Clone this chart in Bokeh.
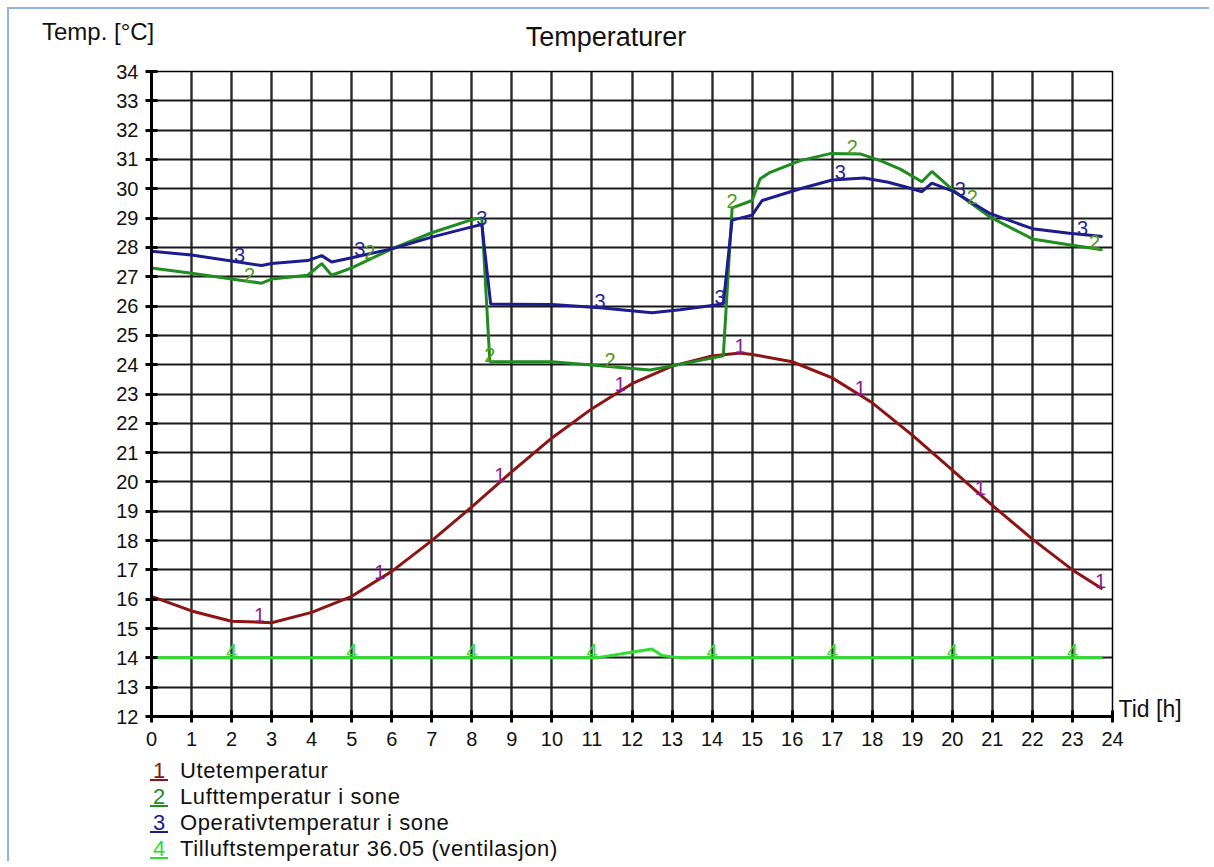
import numpy as np
from bokeh.plotting import figure
from bokeh.models import Range1d, FixedTicker, LinearAxis, Div
from bokeh.layouts import column
from bokeh.embed import file_html
from bokeh.resources import INLINE

# ---------------- data ----------------
chart_title = "Temperaturer"
y_title = "Temp. [°C]"
x_title = "Tid [h]"
series_names = ["Utetemperatur", "Lufttemperatur i sone",
                "Operativtemperatur i sone", "Tilluftstemperatur 36.05 (ventilasjon)"]

ute_h = [0, 1, 2, 3, 4, 5, 6, 7, 8, 9, 10, 11, 12, 13, 14, 14.7, 15, 16, 17, 18, 19, 20, 21, 22, 23, 23.75]
ute_t = [16.1, 15.6, 15.25, 15.2, 15.55, 16.1, 16.95, 18.0, 19.15, 20.35, 21.5, 22.5, 23.35, 23.95,
         24.3, 24.4, 24.35, 24.1, 23.55, 22.7, 21.6, 20.4, 19.2, 18.05, 17.0, 16.35]

luft_h = [0, 1, 2, 2.75, 3.0, 3.9, 4.25, 4.5, 5, 6, 7, 8, 8.25, 8.45, 10.0, 11.2, 12.45, 13.0,
          14.28, 14.5, 15.0, 15.2, 15.45, 16.2, 16.95, 17.7, 18.2, 18.7, 19.24, 19.49, 20.03,
          20.37, 20.95, 22.0, 22.87, 23.75]
luft_t = [27.3, 27.12, 26.92, 26.78, 26.92, 27.05, 27.45, 27.05, 27.3, 27.95, 28.5, 28.95, 29.0,
          24.1, 24.1, 23.96, 23.82, 23.96, 24.3, 29.35, 29.6, 30.34, 30.56, 30.96, 31.2, 31.19,
          30.96, 30.67, 30.24, 30.59, 29.94, 29.6, 29.03, 28.29, 28.1, 27.92]

oper_h = [0, 1, 2, 2.75, 3.0, 3.9, 4.25, 4.5, 5, 6, 7, 8, 8.25, 8.47, 10.0, 11.2, 12.5, 13.2,
          14.28, 14.5, 15.0, 15.25, 16.2, 17.0, 17.8, 18.4, 19.0, 19.24, 19.49, 20.03, 20.95,
          22.0, 22.87, 23.75]
oper_t = [27.87, 27.74, 27.54, 27.38, 27.45, 27.55, 27.72, 27.5, 27.65, 27.95, 28.35, 28.7, 28.78,
          26.07, 26.05, 25.94, 25.77, 25.87, 26.07, 28.93, 29.1, 29.6, 30.0, 30.3, 30.37, 30.22,
          30.0, 29.9, 30.19, 29.91, 29.15, 28.64, 28.49, 28.37]

till_h = [0, 11.1, 12.5, 12.75, 13.2, 23.75]
till_t = [14.0, 14.0, 14.3, 14.08, 14.0, 14.0]

label_x_ute = [2.7, 5.7, 8.7, 11.7, 14.7, 17.7, 20.7, 23.7]
label_x_luft = [2.45, 5.45, 8.45, 11.45, 14.5, 17.5, 20.5, 23.55]
label_x_oper = [2.2, 5.2, 8.25, 11.2, 14.2, 17.2, 20.2, 23.25]
label_x_till = [2.0, 5.0, 8.0, 11.0, 14.0, 17.0, 20.0, 23.0]

x_ticks = list(range(0, 25))
y_ticks = list(range(12, 35))

# ---------------- styling ----------------
line_colors = ["#8e1414", "#1f8c1f", "#1c1c8e", "#2ee02e"]
label_colors = ["#8a1a8a", "#4f9a1c", "#24249a", "#3ed83e"]
FONT = "Liberation Sans"
TXT = "#111111"

p = figure(width=1200, height=699, output_backend="svg", toolbar_location=None,
           x_range=Range1d(0, 24), y_range=Range1d(12, 34),
           min_border_left=142, min_border_top=14, min_border_right=97, min_border_bottom=40)
p.title.visible = False
p.outline_line_color = "black"
p.outline_line_width = 1.5
p.background_fill_color = "white"
p.border_fill_color = "white"

for ax, ticks in ((p.xaxis, x_ticks), (p.yaxis, y_ticks)):
    ax.ticker = FixedTicker(ticks=ticks)
    ax.axis_line_width = 3
    ax.axis_line_color = "black"
    ax.major_tick_line_width = 3
    ax.major_tick_line_color = "black"
    ax.major_tick_in = 6
    ax.major_tick_out = 6
    ax.minor_tick_line_color = None
    ax.major_label_text_font = FONT
    ax.major_label_text_font_size = "20px"
    ax.major_label_text_color = TXT
p.xaxis.major_label_standoff = 9
p.yaxis.major_label_standoff = 7

# x-axis title at the right end, drawn as the single label of a bare right axis
p.extra_y_ranges = {"tid": Range1d(0, 645)}
tid_axis = LinearAxis(y_range_name="tid", ticker=FixedTicker(ticks=[8]),
                      major_label_overrides={8: x_title})
tid_axis.axis_line_color = None
tid_axis.major_tick_line_color = None
tid_axis.minor_tick_line_color = None
tid_axis.major_tick_out = 0
tid_axis.major_tick_in = 0
tid_axis.major_label_standoff = 6
tid_axis.major_label_text_font = FONT
tid_axis.major_label_text_font_size = "23px"
tid_axis.major_label_text_color = TXT
p.add_layout(tid_axis, "right")

p.xgrid.ticker = FixedTicker(ticks=x_ticks)
p.ygrid.ticker = FixedTicker(ticks=y_ticks)
p.xgrid.grid_line_color = "#2a2a2a"
p.xgrid.grid_line_width = 2.4
p.ygrid.grid_line_color = "#1a1a1a"
p.ygrid.grid_line_width = 2

series = [(ute_h, ute_t, label_x_ute), (luft_h, luft_t, label_x_luft),
          (oper_h, oper_t, label_x_oper), (till_h, till_t, label_x_till)]

for i, (hh, tt, lx) in enumerate(series):
    p.line(hh, tt, line_color=line_colors[i], line_width=3)
for i, (hh, tt, lx) in enumerate(series):
    ly = np.interp(lx, hh, tt)
    p.text(x=lx, y=list(ly), text=[str(i + 1)] * len(lx), text_color=label_colors[i],
           text_font={"value": FONT}, text_font_size={"value": "20px"},
           text_align="center", text_baseline="bottom")

# ---------------- header and legend (HTML text) ----------------
header_html = (
    f'<div style="position:relative;width:1200px;height:48px;font-family:\'{FONT}\';color:{TXT};">'
    f'<span style="position:absolute;left:33px;top:10px;font-size:24px;line-height:26px;white-space:nowrap;">{y_title}</span>'
    f'<span style="position:absolute;left:497px;width:200px;text-align:center;top:14px;font-size:27px;line-height:28px;white-space:nowrap;">{chart_title}</span>'
    '</div>'
)
header = Div(text=header_html, width=1200, height=48, margin=0)

row_centers = [15, 41, 67, 93]
legend_parts = [f'<div style="position:relative;width:1200px;height:105px;font-family:\'{FONT}\';color:{TXT};font-size:22px;">']
for i, name in enumerate(series_names):
    top = row_centers[i] - 10
    legend_parts.append(
        f'<span style="position:absolute;left:141px;top:{top}px;width:18px;height:20px;line-height:20px;'
        f'text-align:center;color:{line_colors[i]};border-bottom:2px solid {line_colors[i]};">{i + 1}</span>'
        f'<span style="position:absolute;left:171px;top:{top}px;line-height:20px;letter-spacing:0.6px;white-space:nowrap;">{name}</span>'
    )
legend_parts.append('</div>')
legend = Div(text="".join(legend_parts), width=1200, height=105, margin=0)

layout = column(header, p, legend, spacing=0)
layout.styles = {"margin-left": "7px", "margin-top": "7px",
                 "border-top": "2px solid #8db4e8", "border-left": "2px solid #8db4e8"}

open("out.html", "w").write(file_html(layout, INLINE))
